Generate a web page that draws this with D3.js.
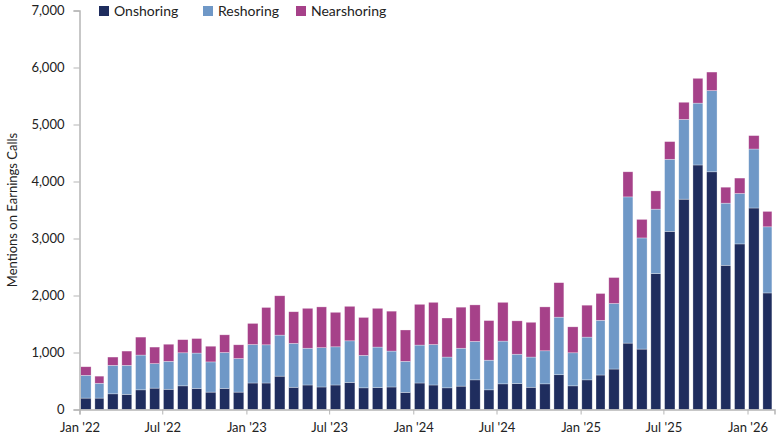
<!DOCTYPE html>
<html>
<head>
<meta charset="utf-8">
<script src="https://cdn.jsdelivr.net/npm/d3@7"></script>
<style>
  body { margin: 0; background: #fff; }
  text { font-family: Lato, "Open Sans", sans-serif; fill: #222; }
</style>
</head>
<body>
<div id="area"></div>
<script>
// monthly, Jan '22 .. Feb '26
var startMonth = new Date(2022, 0, 1);
var keys = ["Onshoring", "Reshoring", "Nearshoring"];
var onshoring = [200, 200, 275, 265, 345, 375, 355, 415, 370, 305, 370, 305,
                 465, 465, 585, 390, 430, 395, 430, 475, 380, 385, 395, 300,
                 465, 430, 380, 410, 520, 345, 450, 455, 390, 450, 610, 415,
                 520, 605, 710, 1165, 1060, 2385, 3125, 3690, 4290, 4170, 2530, 2905,
                 3535, 2045];
var reshoring = [400, 260, 500, 510, 610, 430, 490, 580, 620, 530, 630, 590,
                 675, 670, 720, 770, 645, 690, 670, 730, 570, 710, 630, 545,
                 665, 710, 540, 665, 675, 520, 750, 515, 530, 580, 1010, 580,
                 750, 960, 1150, 2565, 1950, 1130, 1265, 1400, 1085, 1425, 1090, 885,
                 1035, 1160];
var nearshoring = [150, 125, 145, 250, 315, 290, 300, 230, 255, 275, 310, 240,
                   370, 655, 690, 555, 700, 715, 605, 605, 665, 680, 700, 550,
                   715, 740, 685, 720, 640, 695, 680, 585, 610, 770, 605, 455,
                   560, 470, 455, 440, 325, 320, 310, 300, 435, 325, 280, 270,
                   235, 270];
var yTicks = [0, 1000, 2000, 3000, 4000, 5000, 6000, 7000];

var color = d3.scaleOrdinal()
              .domain(keys)
              .range(["#1f2d5e", "#6f98c7", "#a64189"]);

var data = onshoring.map(function(d, i) {
  return {
    date: d3.timeMonth.offset(startMonth, i),
    Onshoring: d,
    Reshoring: reshoring[i],
    Nearshoring: nearshoring[i]
  };
});

var width = 780, height = 440;
var svg = d3.select('#area').append('svg')
            .attr('width', width)
            .attr('height', height);

var x = d3.scaleTime()
          .domain([startMonth, d3.timeMonth.offset(startMonth, data.length)])
          .range([79.5, 774.5]);

var y = d3.scaleLinear()
          .domain([0, 7000])
          .range([409.5, 10.5]);

var stacked = d3.stack().keys(keys)(data);

svg.append('g')
   .selectAll('g')
   .data(stacked)
   .enter().append('g')
     .attr('fill', function(d) { return color(d.key); })
   .selectAll('rect')
   .data(function(d) { return d; })
   .enter().append('rect')
     .attr('x', function(d) { return x(d.data.date) + 1.2; })
     .attr('width', function(d) { return x(d3.timeMonth.offset(d.data.date, 1)) - x(d.data.date) - 3.8; })
     .attr('y', function(d) { return y(d[1]); })
     .attr('height', function(d) { return y(d[0]) - y(d[1]); })
     .attr('stroke', '#fff')
     .attr('stroke-width', 0.6)
     .attr('stroke-opacity', 0.5);

// y axis
var yAxis = d3.axisLeft(y)
              .tickValues(yTicks)
              .tickFormat(d3.format(','))
              .tickSize(6)
              .tickPadding(9);
var gy = svg.append('g')
            .attr('transform', 'translate(79.5,0)')
            .call(yAxis);
gy.select('.domain').attr('stroke', '#b5b5b5').attr('stroke-width', 1.5);
gy.selectAll('.tick line').attr('stroke', '#b5b5b5');
gy.selectAll('.tick text').style('font-size', '13px').attr('fill', '#222');

// x axis
var xAxis = d3.axisBottom(x)
              .ticks(d3.timeMonth.every(6))
              .tickFormat(d3.timeFormat("%b '%y"))
              .tickSizeOuter(0)
              .tickSize(5)
              .tickPadding(8);
var gx = svg.append('g')
            .attr('transform', 'translate(0,409.5)')
            .call(xAxis);
gx.select('.domain').attr('stroke', '#b5b5b5').attr('stroke-width', 1.5);
gx.selectAll('.tick line').attr('stroke', '#b5b5b5');
gx.selectAll('.tick text').style('font-size', '13px').attr('fill', '#222');

// axis title
svg.append('text')
   .attr('transform', 'translate(17,210) rotate(-90)')
   .attr('text-anchor', 'middle')
   .style('font-size', '13px')
   .text('Mentions on Earnings Calls');

// legend
var legendX = [99, 203, 296];
var legend = svg.append('g')
                .selectAll('g')
                .data(keys)
                .enter().append('g')
                  .attr('transform', function(d, i) { return 'translate(' + legendX[i] + ',6)'; });
legend.append('rect')
      .attr('width', 10)
      .attr('height', 10)
      .attr('fill', function(d) { return color(d); });
legend.append('text')
      .attr('x', 15)
      .attr('y', 9.5)
      .style('font-size', '14px')
      .text(function(d) { return d; });
</script>
</body>
</html>
